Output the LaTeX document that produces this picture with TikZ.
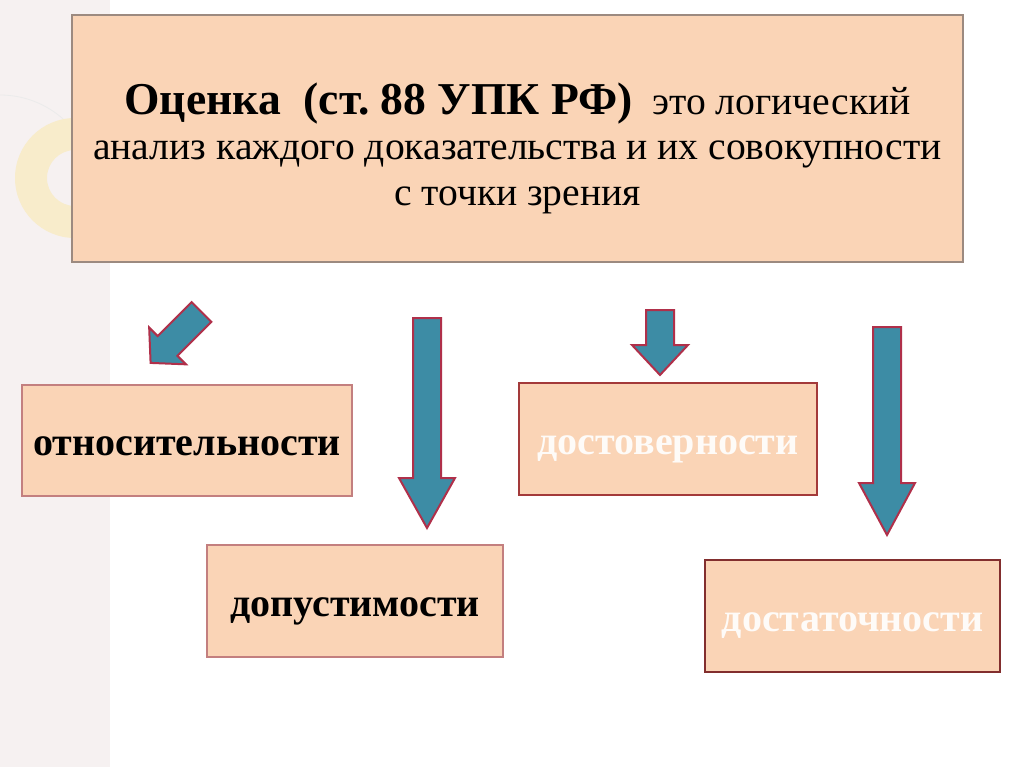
\documentclass[tikz,border=0pt]{standalone}
\usepackage{fontspec}
\setmainfont{Liberation Serif}
\usetikzlibrary{positioning}
\definecolor{pfirsich}{HTML}{FAD4B6}
\definecolor{rahmen}{HTML}{9C8A80}
\definecolor{rotrand}{HTML}{A33A3A}
\definecolor{pfeilblau}{HTML}{3D8CA5}
\definecolor{pfeilrand}{HTML}{B0304A}
\definecolor{streifen}{HTML}{F6F1F1}
\definecolor{ring}{HTML}{F8ECCB}
\tikzset{
  kasten/.style={draw=rotrand,fill=pfirsich,line width=1pt,inner sep=0pt,
    text height=15pt,text depth=0pt,font=\fontsize{20}{22}\selectfont\bfseries},
  pfeil/.style={draw=pfeilrand,fill=pfeilblau,line width=1pt,line join=miter}
}
\begin{document}
\begin{tikzpicture}[x=0.5pt,y=-0.5pt]
    \useasboundingbox (0,0) rectangle (1024,767);
    % background
    \fill[streifen] (0,0) rectangle (110,767);
    \draw[black!8] (0,95) arc[start angle=-90,end angle=0,radius=95];
    \fill[ring,even odd rule] (75,178) circle[radius=60] (75,178) circle[radius=28];

    % top box
    \path (517.5,138.5) node[draw=rahmen,fill=pfirsich,line width=1pt,minimum width=445.5pt,minimum height=123.5pt](ocenka){};
    \path (517.5,148) node[align=center,font=\fontsize{19.8}{22.75}\selectfont](ocenkatext){%
      {\fontsize{22.8}{22.75}\selectfont\bfseries Оценка\ \ (ст.~88 УПК РФ)}\ \ это логический\\
      анализ каждого доказательства и их совокупности\\
      с точки зрения};

    % boxes
    \path (187,440.5) node[kasten,draw=rotrand!65,minimum width=165pt,minimum height=55.5pt](otn){относительности};
    \path (355,601) node[kasten,draw=rotrand!65,minimum width=148pt,minimum height=56pt](dop){допустимости};
    \path (668,439) node[kasten,text=white!90!pfirsich,minimum width=149pt,minimum height=56pt](dostov){достоверности};
    \path (852.5,616) node[kasten,draw=rotrand!80!black,text=white!90!pfirsich,minimum width=147.5pt,minimum height=56pt](dostat){достаточности};

    % arrows
    \foreach \cx/\oben/\hals/\spitze in {427/318/478/528, 660/310/345/375, 887/327/483/535}
      \draw[pfeil] (\cx-14,\oben) -- (\cx+14,\oben) -- (\cx+14,\hals) -- (\cx+28,\hals)
        -- (\cx,\spitze) -- (\cx-28,\hals) -- (\cx-14,\hals) -- cycle;
    \begin{scope}[shift={(201.5,312)},rotate=-45]
      \draw[pfeil] (-14,0) -- (14,0) -- (14,48) -- (26,48) -- (0,72) -- (-26,48) -- (-14,48) -- cycle;
    \end{scope}

  \end{tikzpicture}
\end{document}
